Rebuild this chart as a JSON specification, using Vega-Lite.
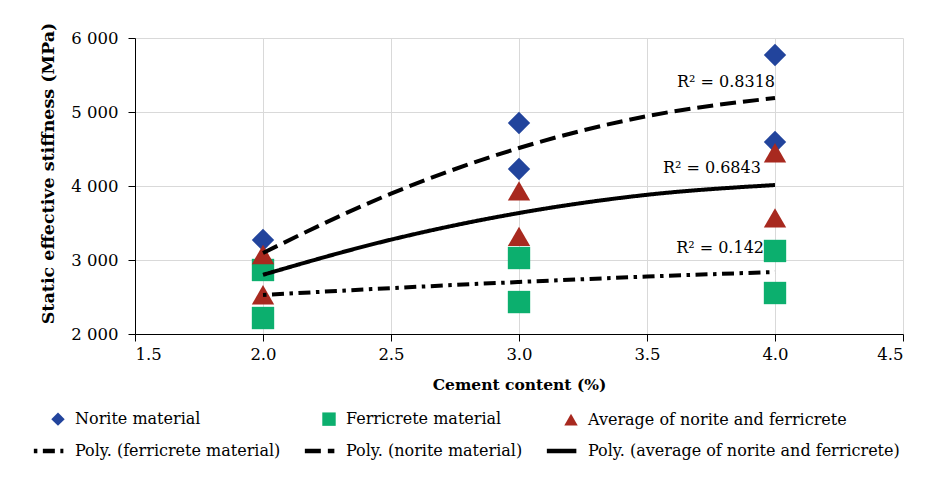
{
  "$schema": "https://vega.github.io/schema/vega-lite/v6.json",
  "width": 768,
  "height": 296,
  "autosize": "none",
  "padding": {"left": 135, "top": 38, "right": 35, "bottom": 151},
  "background": "white",
  "config": {
    "view": {"stroke": null},
    "font": "DejaVu Serif",
    "axis": {
      "labelFont": "DejaVu Serif", "labelFontSize": 16.5, "labelColor": "#000",
      "titleFont": "DejaVu Serif", "titleFontSize": 15.5, "titleFontWeight": "bold", "titleColor": "#000",
      "gridColor": "#d9d9d9", "gridWidth": 1, "domainColor": "#000", "tickColor": "#000", "tickSize": 7
    }
  },
  "datasets": {
    "points": [
      {"series": "Norite material", "x": 2, "y": 3270},
      {"series": "Norite material", "x": 3, "y": 4851},
      {"series": "Norite material", "x": 3, "y": 4230},
      {"series": "Norite material", "x": 4, "y": 5770},
      {"series": "Norite material", "x": 4, "y": 4595},
      {"series": "Ferricrete material", "x": 2, "y": 2865},
      {"series": "Ferricrete material", "x": 2, "y": 2216},
      {"series": "Ferricrete material", "x": 3, "y": 3027},
      {"series": "Ferricrete material", "x": 3, "y": 2432},
      {"series": "Ferricrete material", "x": 4, "y": 3122},
      {"series": "Ferricrete material", "x": 4, "y": 2554},
      {"series": "Average of norite and ferricrete", "x": 2, "y": 3075},
      {"series": "Average of norite and ferricrete", "x": 2, "y": 2530},
      {"series": "Average of norite and ferricrete", "x": 3, "y": 3935},
      {"series": "Average of norite and ferricrete", "x": 3, "y": 3320},
      {"series": "Average of norite and ferricrete", "x": 4, "y": 4450},
      {"series": "Average of norite and ferricrete", "x": 4, "y": 3570}
    ],
    "lines": [
      {"series": "Poly. (ferricrete material)", "x": 2, "y": 2527},
      {"series": "Poly. (ferricrete material)", "x": 2.5, "y": 2620},
      {"series": "Poly. (ferricrete material)", "x": 3, "y": 2703},
      {"series": "Poly. (ferricrete material)", "x": 3.5, "y": 2776},
      {"series": "Poly. (ferricrete material)", "x": 4, "y": 2838},
      {"series": "Poly. (norite material)", "x": 2, "y": 3095},
      {"series": "Poly. (norite material)", "x": 2.5, "y": 3897},
      {"series": "Poly. (norite material)", "x": 3, "y": 4513},
      {"series": "Poly. (norite material)", "x": 3.5, "y": 4944},
      {"series": "Poly. (norite material)", "x": 4, "y": 5189},
      {"series": "Poly. (average of norite and ferricrete)", "x": 2, "y": 2800},
      {"series": "Poly. (average of norite and ferricrete)", "x": 2.5, "y": 3275},
      {"series": "Poly. (average of norite and ferricrete)", "x": 3, "y": 3635},
      {"series": "Poly. (average of norite and ferricrete)", "x": 3.5, "y": 3881},
      {"series": "Poly. (average of norite and ferricrete)", "x": 4, "y": 4013}
    ],
    "labels": [
      {"label": "R² = 0.8318", "x": 4.0, "y": 5405},
      {"label": "R² = 0.6843", "x": 3.945, "y": 4243},
      {"label": "R² = 0.142", "x": 3.957, "y": 3162}
    ]
  },
  "encoding": {
    "x": {
      "field": "x", "type": "quantitative",
      "scale": {"domain": [1.5, 4.5], "nice": false, "zero": false},
      "axis": {"title": "Cement content (%)", "values": [1.5, 2, 2.5, 3, 3.5, 4, 4.5], "format": ".1f", "labelPadding": 5, "titlePadding": 15}
    },
    "y": {
      "field": "y", "type": "quantitative",
      "scale": {"domain": [2000, 6000], "nice": false, "zero": false},
      "axis": {"title": "Static effective stiffness (MPa)", "titleFontSize": 17.5, "titleY": 135, "values": [2000, 3000, 4000, 5000, 6000], "labelExpr": "replace(format(datum.value, ','), ',', ' ')", "labelPadding": 10, "titlePadding": 13}
    }
  },
  "layer": [
    {
      "data": {"name": "labels"},
      "mark": {"type": "text", "align": "right", "baseline": "middle", "fontSize": 16, "font": "DejaVu Serif", "color": "#000"},
      "encoding": {"text": {"field": "label"}}
    },
    {
      "data": {"name": "points"},
      "mark": {"type": "point", "filled": true, "size": 500, "opacity": 1, "strokeWidth": 4.5},
      "encoding": {
        "fill": {
          "field": "series", "type": "nominal",
          "scale": {
            "domain": ["Norite material", "Ferricrete material", "Average of norite and ferricrete", "Poly. (ferricrete material)", "Poly. (norite material)", "Poly. (average of norite and ferricrete)"],
            "range": ["#22449c", "#0caf6e", "#a8291f", "#000000", "#000000", "#000000"]
          },
          "legend": {
            "title": null, "orient": "none", "legendX": -86, "legendY": 372, "direction": "horizontal", "columns": 3,
            "columnPadding": 14, "rowPadding": 7, "symbolSize": 180, "symbolStrokeWidth": 4.5, "symbolOpacity": 1,
            "labelFont": "DejaVu Serif", "labelFontSize": 16, "labelColor": "#000", "labelOffset": 8, "labelLimit": 400
          }
        },
        "stroke": {
          "field": "series", "type": "nominal",
          "scale": {
            "domain": ["Norite material", "Ferricrete material", "Average of norite and ferricrete", "Poly. (ferricrete material)", "Poly. (norite material)", "Poly. (average of norite and ferricrete)"],
            "range": ["transparent", "transparent", "transparent", "#000000", "#000000", "#000000"]
          },
          "legend": {
            "title": null, "orient": "none", "legendX": -86, "legendY": 372, "direction": "horizontal", "columns": 3,
            "columnPadding": 14, "rowPadding": 7, "symbolSize": 180, "symbolStrokeWidth": 4.5, "symbolOpacity": 1,
            "labelFont": "DejaVu Serif", "labelFontSize": 16, "labelColor": "#000", "labelOffset": 8, "labelLimit": 400
          }
        },
        "shape": {
          "field": "series", "type": "nominal",
          "scale": {
            "domain": ["Norite material", "Ferricrete material", "Average of norite and ferricrete", "Poly. (ferricrete material)", "Poly. (norite material)", "Poly. (average of norite and ferricrete)"],
            "range": ["diamond", "square", "triangle-up", "M-3.6,0H0.8", "M-3.6,0H0.8", "M-3.6,0H0.8"]
          },
          "legend": {
            "title": null, "orient": "none", "legendX": -86, "legendY": 372, "direction": "horizontal", "columns": 3,
            "columnPadding": 14, "rowPadding": 7, "symbolSize": 180, "symbolStrokeWidth": 4.5, "symbolOpacity": 1,
            "labelFont": "DejaVu Serif", "labelFontSize": 16, "labelColor": "#000", "labelOffset": 8, "labelLimit": 400
          }
        }
      }
    },
    {
      "data": {"name": "lines"},
      "mark": {"type": "line", "color": "#000", "strokeWidth": 4, "interpolate": "monotone"},
      "encoding": {
        "strokeDash": {
          "field": "series", "type": "nominal",
          "scale": {
            "domain": ["Norite material", "Ferricrete material", "Average of norite and ferricrete", "Poly. (ferricrete material)", "Poly. (norite material)", "Poly. (average of norite and ferricrete)"],
            "range": [[1, 0], [1, 0], [1, 0], [3.5, 5.5, 12, 5.5], [16, 7], [1, 0]]
          },
          "legend": {
            "title": null, "orient": "none", "legendX": -86, "legendY": 372, "direction": "horizontal", "columns": 3,
            "columnPadding": 14, "rowPadding": 7, "symbolSize": 180, "symbolStrokeWidth": 4.5, "symbolOpacity": 1,
            "labelFont": "DejaVu Serif", "labelFontSize": 16, "labelColor": "#000", "labelOffset": 8, "labelLimit": 400
          }
        }
      }
    }
  ]
}
